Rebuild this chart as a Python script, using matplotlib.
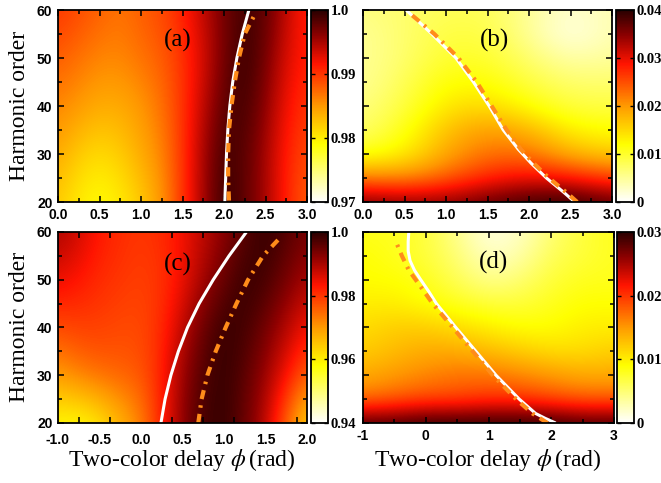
import numpy as np
import matplotlib
matplotlib.use("Agg")
import matplotlib.pyplot as plt
from matplotlib.colors import LinearSegmentedColormap
from matplotlib.ticker import MultipleLocator
from matplotlib.transforms import ScaledTranslation

plt.rcParams["axes.unicode_minus"] = False
plt.rcParams["mathtext.fontset"] = "stix"

# ---- map grids -------------------------------------------------------------
orders_ac = [20, 30, 40, 50, 60]
orders_bd = [20, 25, 30, 35, 40, 45, 50, 55, 60]
phase_a = [0.0, 0.25, 0.5, 0.75, 1.0, 1.25, 1.5, 1.75, 2.0, 2.25, 2.5, 2.75, 3.0]
phase_b = [0.0, 0.5, 1.0, 1.5, 2.0, 2.5, 3.0]
phase_c = [-1.0, -0.75, -0.5, -0.25, 0.0, 0.25, 0.5, 0.75, 1.0, 1.25, 1.5, 1.75, 2.0]
phase_d = [-1.0, -0.5, 0.0, 0.5, 1.0, 1.5, 2.0, 2.5, 3.0]

# rows go from order 20 (first) to order 60 (last)
map_a = [
    [0.982, 0.980, 0.979, 0.980, 0.982, 0.985, 0.990, 0.995, 0.9995, 0.998, 0.995, 0.991, 0.988],
    [0.984, 0.982, 0.981, 0.982, 0.984, 0.986, 0.990, 0.995, 0.999, 0.998, 0.995, 0.991, 0.989],
    [0.986, 0.985, 0.984, 0.984, 0.985, 0.987, 0.990, 0.994, 0.998, 0.999, 0.996, 0.992, 0.990],
    [0.988, 0.987, 0.986, 0.986, 0.987, 0.988, 0.990, 0.993, 0.997, 0.9995, 0.997, 0.993, 0.991],
    [0.990, 0.989, 0.988, 0.987, 0.988, 0.989, 0.991, 0.994, 0.997, 0.999, 0.998, 0.994, 0.991],
]
map_b = [
    [0.036, 0.035, 0.035, 0.037, 0.039, 0.040, 0.037],
    [0.022, 0.021, 0.024, 0.028, 0.030, 0.029, 0.026],
    [0.011, 0.013, 0.019, 0.023, 0.023, 0.018, 0.016],
    [0.007, 0.011, 0.017, 0.020, 0.018, 0.013, 0.012],
    [0.006, 0.009, 0.014, 0.015, 0.012, 0.009, 0.009],
    [0.005, 0.008, 0.012, 0.012, 0.009, 0.007, 0.007],
    [0.005, 0.007, 0.010, 0.010, 0.007, 0.004, 0.005],
    [0.005, 0.007, 0.009, 0.009, 0.005, 0.001, 0.004],
    [0.006, 0.007, 0.008, 0.008, 0.005, 0.002, 0.004],
]
map_c = [
    [0.958, 0.957, 0.960, 0.966, 0.972, 0.982, 0.992, 0.998, 0.999, 0.995, 0.988, 0.975, 0.962],
    [0.970, 0.973, 0.975, 0.976, 0.977, 0.982, 0.991, 0.997, 0.999, 0.996, 0.991, 0.984, 0.976],
    [0.978, 0.979, 0.979, 0.978, 0.978, 0.981, 0.988, 0.995, 0.999, 0.998, 0.994, 0.989, 0.984],
    [0.985, 0.983, 0.981, 0.980, 0.979, 0.980, 0.984, 0.990, 0.995, 0.999, 0.998, 0.994, 0.990],
    [0.990, 0.987, 0.983, 0.981, 0.980, 0.981, 0.984, 0.988, 0.992, 0.996, 0.999, 0.997, 0.994],
]
map_d = [
    [0.029, 0.029, 0.030, 0.030, 0.030, 0.030, 0.030, 0.029, 0.029],
    [0.017, 0.018, 0.019, 0.019, 0.020, 0.020, 0.019, 0.018, 0.018],
    [0.014, 0.015, 0.016, 0.017, 0.017, 0.016, 0.015, 0.014, 0.014],
    [0.012, 0.013, 0.014, 0.014, 0.013, 0.012, 0.011, 0.011, 0.012],
    [0.011, 0.012, 0.012, 0.011, 0.010, 0.009, 0.009, 0.010, 0.010],
    [0.010, 0.010, 0.009, 0.008, 0.007, 0.007, 0.008, 0.009, 0.009],
    [0.009, 0.009, 0.008, 0.006, 0.004, 0.005, 0.007, 0.008, 0.008],
    [0.009, 0.008, 0.007, 0.005, 0.002, 0.003, 0.006, 0.007, 0.008],
    [0.008, 0.008, 0.007, 0.004, 0.001, 0.002, 0.005, 0.007, 0.008],
]

# ---- curves (phase at given harmonic order) --------------------------------
white_a_orders = [20, 25, 30, 35, 40, 45, 50, 55, 60]
white_a_phase = [2.01, 2.02, 2.03, 2.046, 2.07, 2.105, 2.155, 2.22, 2.30]
orange_a_orders = [20.3, 25, 30, 35, 40, 45, 50, 55, 58.7]
orange_a_phase = [2.06, 2.05, 2.05, 2.06, 2.09, 2.13, 2.18, 2.25, 2.36]

white_b_orders = [20, 22, 25, 28, 31, 35, 40, 45, 50, 55, 60]
white_b_phase = [2.55, 2.42, 2.21, 2.03, 1.87, 1.69, 1.52, 1.33, 1.12, 0.83, 0.52]
orange_b_orders = [20, 22, 25, 28, 31, 35, 40, 45, 50, 55, 59.5]
orange_b_phase = [2.58, 2.45, 2.24, 2.06, 1.90, 1.73, 1.55, 1.37, 1.15, 0.86, 0.55]

white_c_orders = [20, 25, 30, 35, 40, 45, 50, 55, 60]
white_c_phase = [0.24, 0.29, 0.36, 0.45, 0.56, 0.70, 0.87, 1.06, 1.27]
orange_c_orders = [20, 25, 30, 35, 40, 45, 50, 55, 58.5]
orange_c_phase = [0.69, 0.73, 0.80, 0.90, 1.02, 1.15, 1.29, 1.47, 1.66]

white_d_orders = [20, 21, 22, 25, 30, 35, 40, 45, 47.5, 50, 52, 54, 56, 58, 60]
white_d_phase = [2.07, 1.90, 1.75, 1.49, 1.12, 0.80, 0.48, 0.17, 0.05, -0.08, -0.18, -0.25, -0.28, -0.28, -0.27]
orange_d_orders = [20, 21, 22, 25, 30, 35, 40, 45, 50, 52, 55, 57.8]
orange_d_phase = [1.94, 1.82, 1.70, 1.44, 1.07, 0.75, 0.43, 0.11, -0.16, -0.27, -0.38, -0.47]

# colorbar ranges and labels
cb_a = ([0.97, 0.98, 0.99, 1.0], ["0.97", "0.98", "0.99", "1.0"])
cb_b = ([0.0, 0.01, 0.02, 0.03, 0.04], ["0", "0.01", "0.02", "0.03", "0.04"])
cb_c = ([0.94, 0.96, 0.98, 1.0], ["0.94", "0.96", "0.98", "1.0"])
cb_d = ([0.0, 0.01, 0.02, 0.03], ["0", "0.01", "0.02", "0.03"])

cmap = LinearSegmentedColormap.from_list(
    "hot_like",
    [(0.0, "#ffffff"), (0.12, "#ffff9a"), (0.3, "#ffff00"), (0.5, "#ff9a00"),
     (0.72, "#ff1400"), (0.87, "#8c0000"), (1.0, "#2a0000")])

W, H = 661, 483
fig = plt.figure(figsize=(W / 100, H / 100), dpi=100)


def box(x0, y0, x1, y1):
    # pixel box (top-left origin) -> figure fraction rect
    return [x0 / W, 1 - y1 / H, (x1 - x0) / W, (y1 - y0) / H]


panels = [
    dict(rect=box(58, 10, 307, 202), crect=box(311, 10, 328, 202), phase=phase_a, orders=orders_ac,
         z=map_a, cb=cb_a, white=(white_a_phase, white_a_orders), orange=(orange_a_phase, orange_a_orders),
         xmaj=0.5, xmin=0.25, label="(a)", lpos=(0.48, 0.84), ylab=True),
    dict(rect=box(363, 10, 612, 202), crect=box(616, 10, 634, 202), phase=phase_b, orders=orders_bd,
         z=map_b, cb=cb_b, white=(white_b_phase, white_b_orders), orange=(orange_b_phase, orange_b_orders),
         xmaj=0.5, xmin=0.25, label="(b)", lpos=(0.53, 0.84), ylab=False),
    dict(rect=box(58, 232, 307, 423), crect=box(311, 232, 328, 423), phase=phase_c, orders=orders_ac,
         z=map_c, cb=cb_c, white=(white_c_phase, white_c_orders), orange=(orange_c_phase, orange_c_orders),
         xmaj=0.5, xmin=0.375, label="(c)", lpos=(0.48, 0.83), ylab=True),
    dict(rect=box(363, 232, 614, 423), crect=box(617, 232, 634, 423), phase=phase_d, orders=orders_bd,
         z=map_d, cb=cb_d, white=(white_d_phase, white_d_orders), orange=(orange_d_phase, orange_d_orders),
         xmaj=1.0, xmin=0.5, label="(d)", lpos=(0.52, 0.84), ylab=False),
]

for i, p in enumerate(panels):
    ax = fig.add_axes(p["rect"])
    x = np.asarray(p["phase"])
    y = np.asarray(p["orders"])
    dx, dy = x[1] - x[0], y[1] - y[0]
    ticks, labels = p["cb"]
    im = ax.imshow(np.asarray(p["z"]), origin="lower", aspect="auto", cmap=cmap,
                   vmin=ticks[0], vmax=ticks[-1], interpolation="bicubic",
                   interpolation_stage="data",
                   extent=(x[0] - dx / 2, x[-1] + dx / 2, y[0] - dy / 2, y[-1] + dy / 2))
    ax.set_xlim(x[0], x[-1])
    ax.set_ylim(y[0], y[-1])

    ax.plot(*p["white"], color="white", lw=2.2, solid_capstyle="butt", solid_joinstyle="round")
    ax.plot(*p["orange"], color="#ff8c1a", lw=3.0, dashes=(2.2, 1.5, 0.6, 1.5))

    ax.text(*p["lpos"], p["label"], transform=ax.transAxes, ha="center", va="center",
            fontsize=18, family="Liberation Serif")

    # ticks
    ax.xaxis.set_major_locator(MultipleLocator(p["xmaj"]))
    ax.xaxis.set_minor_locator(MultipleLocator(p["xmin"]))
    ax.yaxis.set_major_locator(MultipleLocator(10))
    ax.yaxis.set_minor_locator(MultipleLocator(5))
    ax.tick_params(which="both", direction="in", top=True, right=True, width=1.1)
    ax.tick_params(which="major", length=4)
    ax.tick_params(axis="x", which="major", pad=4.5)
    ax.tick_params(axis="y", which="major", pad=4)
    ax.tick_params(which="minor", length=2.8)
    if i == 2:
        # labels every 0.5, tick marks every 0.375
        ax.tick_params(axis="x", which="major", length=0, pad=7.5)
        ax.tick_params(axis="x", which="minor", length=4)
    if not p["ylab"]:
        ax.set_yticklabels([])
    for t in ax.get_xticklabels() + ax.get_yticklabels():
        t.set_fontfamily("Liberation Sans")
        t.set_fontweight("bold")
        t.set_fontsize(10)
    if i in (0, 1):
        # first label sits a little right of its tick
        first = ax.get_xticklabels()[0]
        first.set_transform(first.get_transform() + ScaledTranslation(0.07, 0, fig.dpi_scale_trans))
    for s in ax.spines.values():
        s.set_linewidth(1.3)

    cax = fig.add_axes(p["crect"])
    cb = fig.colorbar(im, cax=cax)
    cb.set_ticks(ticks)
    cb.set_ticklabels(labels)
    cb.outline.set_linewidth(1.3)
    cax.tick_params(direction="in", length=3, width=1.0, left=True, right=True, pad=2)
    for t in cax.get_yticklabels():
        t.set_fontfamily("Liberation Serif")
        t.set_fontweight("bold")
        t.set_fontsize(10.5)

# axis titles
fig.text(20 / W, 1 - 106 / H, "Harmonic order", rotation=90, ha="center", va="center",
         fontsize=17, family="Liberation Serif")
fig.text(20 / W, 1 - 327 / H, "Harmonic order", rotation=90, ha="center", va="center",
         fontsize=17, family="Liberation Serif")
fig.text(182 / W, 1 - 460 / H, r"Two-color delay $\phi\,$(rad)", ha="center", va="center",
         fontsize=17, family="Liberation Serif")
fig.text(488 / W, 1 - 460 / H, r"Two-color delay $\phi\,$(rad)", ha="center", va="center",
         fontsize=17, family="Liberation Serif")

fig.savefig("out.png", dpi=100)
